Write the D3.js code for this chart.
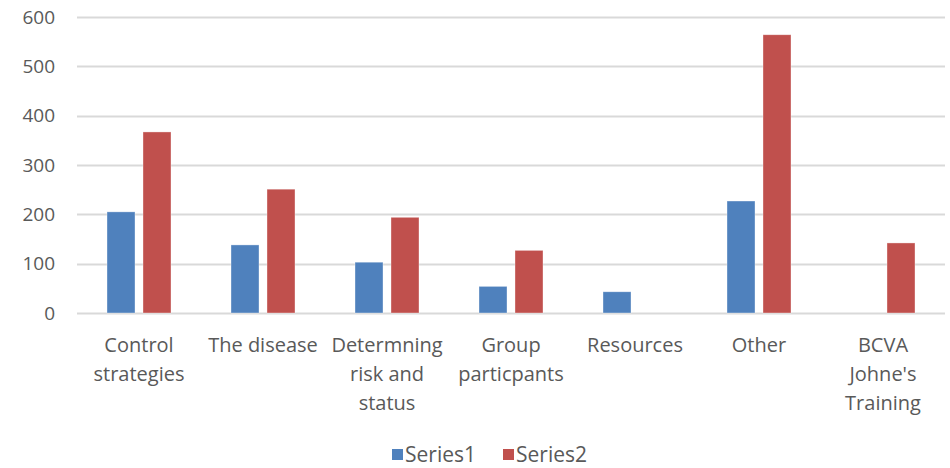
<!DOCTYPE html>
<html>
<head>
<meta charset="utf-8">
<script src="https://cdn.jsdelivr.net/npm/d3@7"></script>
<style>
  body { margin: 0; background: #fff; }
  text { font-family: "Open Sans", sans-serif; fill: #595959; }
</style>
</head>
<body>
<svg width="950" height="468"></svg>
<script>
const categories = ["Control strategies", "The disease", "Determning risk and status", "Group particpants", "Resources", "Other", "BCVA Johne's Training"];
const seriesNames = ["Series1", "Series2"];
const series1 = [205, 138, 103, 54, 43, 227, 0];
const series2 = [367, 251, 194, 127, 0, 564, 142];
const yTicks = [0, 100, 200, 300, 400, 500, 600];

const colors = {Series1: "#4F81BD", Series2: "#C0504D"};
const margin = {top: 17, right: 5, bottom: 155, left: 77};
const width = 950, height = 468;

const svg = d3.select("svg");

const x0 = d3.scaleBand()
    .domain(categories)
    .range([margin.left, width - margin.right]);

const x1 = d3.scaleBand()
    .domain(seriesNames)
    .range([0, 64])
    .paddingInner(0.222);

const y = d3.scaleLinear()
    .domain([0, 600])
    .range([height - margin.bottom, margin.top]);

// gridlines
svg.append("g")
    .selectAll("line")
    .data(yTicks)
    .enter().append("line")
    .attr("x1", margin.left)
    .attr("x2", width - margin.right)
    .attr("y1", d => Math.round(y(d)) + 0.5)
    .attr("y2", d => Math.round(y(d)) + 0.5)
    .style("stroke", "#d9d9d9")
    .style("stroke-width", 2);

// y labels
svg.append("g")
    .selectAll("text")
    .data(yTicks)
    .enter().append("text")
    .attr("x", 55)
    .attr("y", d => y(d))
    .attr("dy", "0.35em")
    .attr("text-anchor", "end")
    .style("font-size", "19px")
    .text(d => d);

const rows = categories.map((c, i) => ({cat: c, Series1: series1[i], Series2: series2[i]}));

const groups = svg.append("g")
    .selectAll("g")
    .data(rows)
    .enter().append("g")
    .attr("transform", d => `translate(${x0(d.cat) + x0.bandwidth() / 2 - 32},0)`);

groups.selectAll("rect")
    .data(d => seriesNames.map(s => ({key: s, value: d[s]})).filter(d => d.value > 0))
    .enter().append("rect")
    .attr("x", d => x1(d.key))
    .attr("width", x1.bandwidth())
    .attr("y", d => y(d.value))
    .attr("height", d => y(0) - y(d.value))
    .attr("fill", d => colors[d.key])
    .style("stroke", "#fff")
    .style("stroke-opacity", 0.5)
    .style("stroke-width", 0.7);

// category labels, wrapped to fit the band
const labels = svg.append("g")
    .selectAll("text")
    .data(categories)
    .enter().append("text")
    .attr("text-anchor", "middle")
    .attr("x", d => x0(d) + x0.bandwidth() / 2)
    .attr("y", 352)
    .style("font-size", "20px");

labels.each(function(d) {
    const el = d3.select(this);
    const words = d.split(" ");
    let line = [];
    let tspan = el.append("tspan").attr("x", el.attr("x")).attr("dy", 0);
    words.forEach(w => {
        line.push(w);
        tspan.text(line.join(" "));
        if (tspan.node().getComputedTextLength() > 114 && line.length > 1) {
            line.pop();
            tspan.text(line.join(" "));
            line = [w];
            tspan = el.append("tspan").attr("x", el.attr("x")).attr("dy", 29).text(w);
        }
    });
});

// legend
const legend = svg.append("g")
    .attr("transform", "translate(392,455)");

const items = legend.selectAll("g")
    .data(seriesNames)
    .enter().append("g")
    .attr("transform", (d, i) => `translate(${i * 111},0)`);

items.append("rect")
    .attr("x", 0)
    .attr("y", -6)
    .attr("width", 11)
    .attr("height", 11)
    .attr("fill", d => colors[d]);

items.append("text")
    .attr("x", 13)
    .attr("y", 0)
    .attr("dy", "0.35em")
    .style("font-size", "21px")
    .text(d => d);
</script>
</body>
</html>
